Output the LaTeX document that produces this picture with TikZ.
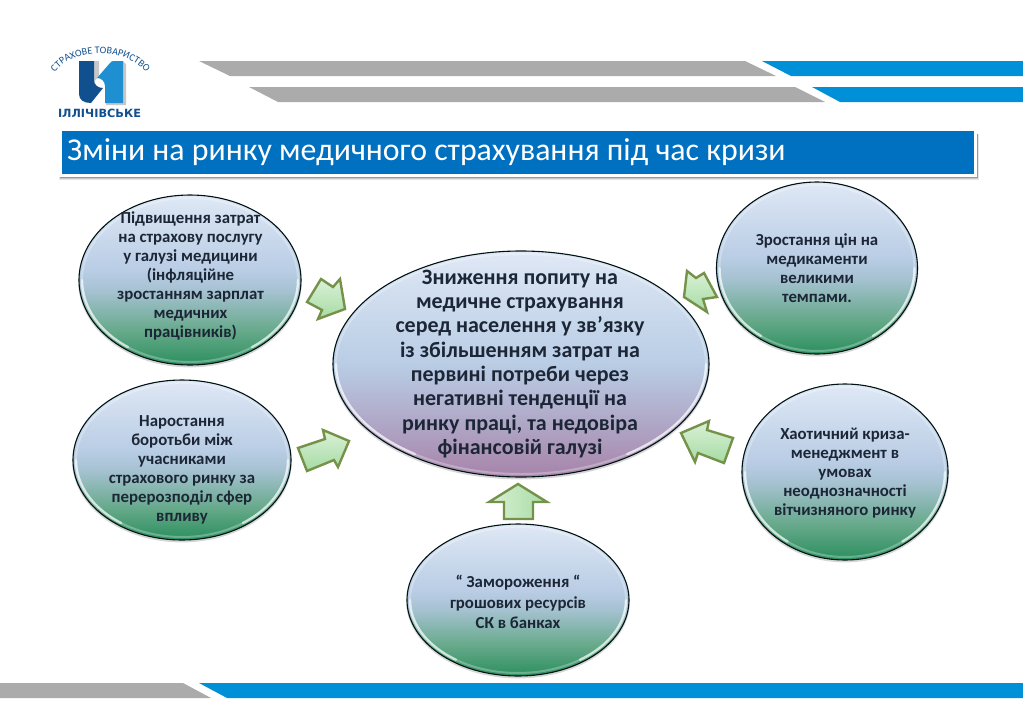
\documentclass[tikz,border=0pt]{standalone}
\usepackage{fontspec}
\setmainfont{Carlito}
\newfontfamily\logofont{DejaVu Sans}
\usetikzlibrary{shapes.geometric,decorations.text}
\definecolor{bandgray}{HTML}{ABABAB}
\definecolor{bandblue}{HTML}{0090D8}
\definecolor{barblue}{HTML}{0070C0}
\definecolor{inkdark}{HTML}{1C2636}
\definecolor{arrowline}{HTML}{76924A}
\definecolor{arrowlight}{HTML}{DAF1D6}
\definecolor{arrowdark}{HTML}{A6DBA4}
\definecolor{logodark}{HTML}{11508F}
\definecolor{logolight}{HTML}{1E90D2}
\definecolor{botgreen}{HTML}{2B8F5E}
\definecolor{midgreen}{HTML}{66A98A}
\definecolor{midblue}{HTML}{A6C2D2}
\definecolor{bubblue}{HTML}{B9CDE5}
\definecolor{bubtop}{HTML}{DFE8F5}
\definecolor{botpurple}{HTML}{A784AA}
\pgfdeclareverticalshading{greenbub}{100bp}{color(0bp)=(botgreen);color(25bp)=(botgreen);color(35bp)=(midgreen);color(47bp)=(midblue);color(53bp)=(bubblue);color(75bp)=(bubtop);color(100bp)=(bubtop)}
\pgfdeclareverticalshading{purplebub}{100bp}{color(0bp)=(botpurple);color(25bp)=(botpurple);color(50bp)=(bubblue);color(75bp)=(bubtop);color(100bp)=(bubtop)}
\tikzset{
  x=1pt,y=-1pt,
  bub/.style={ellipse,draw=black!85!teal,line width=1.1pt,inner sep=0pt,shading=greenbub},
  bigbub/.style={bub,shading=purplebub},
  bubtext/.style={align=center,text=inkdark,inner sep=0pt,font=\bfseries\fontsize{16.8}{19}\selectfont},
  bigtext/.style={bubtext,font=\bfseries\fontsize{22}{24.3}\selectfont},
  wide leading/.style={bubtext,font=\bfseries\fontsize{16.8}{20.5}\selectfont},
  rim/.style={draw=white,line width=2pt,opacity=.28},
  rimbright/.style={draw=white,line width=2.4pt,opacity=.6,line cap=round},
  shade under/.style={fill=black,opacity=.16,draw=none},
  blockarrow/.style={draw=arrowline,line width=2.4pt,line join=miter,left color=arrowlight,right color=arrowdark,shading angle=#1},
  blockarrow/.default=0
}
\newcommand{\bubble}[7][bub]{%
  \fill[shade under] (#3,#4+1.6) ellipse [x radius=#5+.8,y radius=#6+.8];
  \node[#1,minimum width=2*#5 pt,minimum height=2*#6 pt] (#2) at (#3,#4) {};
  \draw[rim] (#2.center) ellipse [x radius=#5-3,y radius=#6-3];
  \draw[rimbright] (#3-#5+3,#4) arc [start angle=180,end angle=125,x radius=#5-3,y radius=#6-3];
  \draw[rimbright] (#3+#5-3,#4) arc [start angle=0,end angle=55,x radius=#5-3,y radius=#6-3];
  \node[#7] (#2text) at
}
\begin{document}
\begin{tikzpicture}
\useasboundingbox (0,0) rectangle (1023,723);
\fill[white] (0,0) rectangle (1023,723);
% header bands
\fill[bandgray] (199,61) -- (745,61) -- (776,76) -- (230,76) -- cycle;
\fill[bandblue] (762,61) -- (1023,61) -- (1023,76) -- (791,76) -- cycle;
\fill[bandgray] (249,87) -- (795,87) -- (825,102) -- (278,102) -- cycle;
\fill[bandblue] (812,87) -- (1023,87) -- (1023,102) -- (840,102) -- cycle;
% footer bands
\fill[bandgray] (0,683) -- (183,683) -- (211,698) -- (0,698) -- cycle;
\fill[bandblue] (199,683) -- (1023,683) -- (1023,698) -- (227,698) -- cycle;
% logo
\fill[black!22] (94,61) -- (99,61) -- (99,76) -- (94,82) -- cycle;
\fill[black!22] (123,61) -- (126,64) -- (126,105) -- (106,105) -- (106,100) -- cycle;
\fill[logodark] (79,61) -- (94,61) -- (94,80) .. controls (94,85) and (98,88) .. (103,88) -- (91,103) .. controls (84,103) and (79,100) .. (79,94) -- cycle;
\fill[logolight] (97,78) -- (110,63) .. controls (111,61.5) and (112,61) .. (114,61) -- (123,61) -- (123,103) -- (105,103) -- (105,86) .. controls (105,81) and (101,78) .. (97,78) -- cycle;
\path[decorate,decoration={text along path,text align=center,text={|\fontsize{10}{10}\selectfont\color{logodark}|СТРАХОВЕ ТОВАРИСТВО}}] (55,72) .. controls (74,47) and (125,47) .. (146,72);
\node[font=\logofont\bfseries\fontsize{11.3}{12}\selectfont,text=logodark,inner sep=0pt] (logotext) at (99.5,113) {ІЛЛІЧІВСЬКЕ};
% title bar
\fill[black!10] (59,134) rectangle (978.5,180);
\fill[black!22] (59.5,134) rectangle (978,179);
\fill[black!40] (60,134) rectangle (977.5,178);
\fill[white] (58.5,128) rectangle (977,176.5);
\node[fill=barblue,minimum width=912pt,minimum height=43pt,inner sep=0pt,anchor=north west] (bar) at (62,131) {};
\node[anchor=west,text=white,inner sep=0pt,font=\fontsize{31.8}{38}\selectfont] (title) at (67,152) {Зміни на ринку медичного страхування під час кризи};
% bubbles
\bubble{tl}{190}{280}{111}{85}{bubtext} (190.5,275.5) {Підвищення затрат\\на страхову послугу\\у галузі медицини\\(інфляційне\\зростанням зарплат\\медичних\\працівників)};
\bubble{bl}{182}{460}{109}{80}{bubtext} (182,470) {Наростання\\боротьби між\\учасниками\\страхового ринку за\\перерозподіл сфер\\впливу};
\bubble[bigbub]{ctr}{521}{364}{188}{113}{bigtext} (520,364) {Зниження попиту на\\медичне страхування\\серед населення у зв’язку\\із збільшенням затрат на\\первині потреби через\\негативні тенденції на\\ринку праці, та недовіра\\фінансовій галузі};
\bubble{tr}{817}{268}{100.5}{86}{bubtext} (817,268) {Зростання цін на\\медикаменти\\великими\\темпами.};
\bubble{br}{845}{472}{103}{88}{bubtext} (845,473) {Хаотичний криза-\\менеджмент в\\умовах\\неоднозначності\\вітчизняного ринку};
\bubble{bt}{518}{600}{111}{76}{wide leading} (518,602) {“ Замороження “\\грошових ресурсів\\СК в банках};
% block arrows
\draw[blockarrow=0] (345,309) -- (340,279) -- (333,287) -- (321,279) -- (307,302) -- (322,310) -- (318,319) -- cycle;
\draw[blockarrow=0] (349,441) -- (323,430) -- (325,439) -- (298,448) -- (307,471) -- (334,460) -- (338,467) -- cycle;
\draw[blockarrow=0] (687,271) -- (684,297) -- (707,312) -- (703,299) -- (717,297) -- (704,273) -- (696,278) -- cycle;
\draw[blockarrow=0] (681,433) -- (695,462) -- (698,453) -- (724,463) -- (733,438) -- (707,430) -- (709,421) -- cycle;
\draw[blockarrow=90] (518,484) -- (547,502) -- (533,502) -- (533,519) -- (504,519) -- (504,502) -- (489,502) -- cycle;
\end{tikzpicture}
\end{document}
